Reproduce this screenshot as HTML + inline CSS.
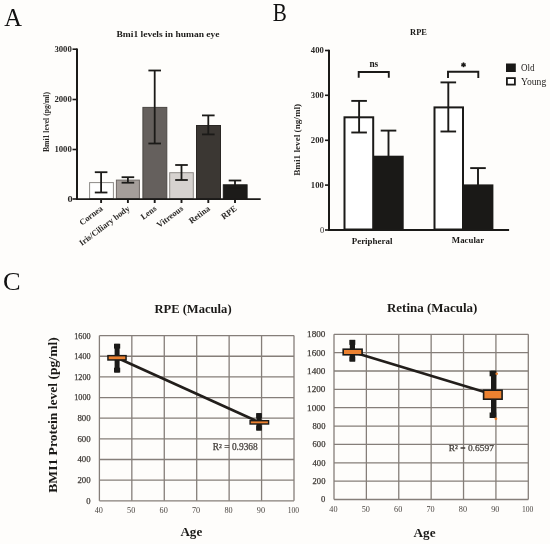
<!DOCTYPE html>
<html><head><meta charset="utf-8"><style>
html,body{margin:0;padding:0;background:#fefdfb;}
body{width:550px;height:544px;overflow:hidden;font-family:"Liberation Serif",serif;}
svg{display:block;}
</style></head><body>
<svg width="550" height="544" viewBox="0 0 550 544" style="will-change:transform;filter:blur(0.3px)">
<rect x="0" y="0" width="550" height="544" fill="#fefdfb"/>
<text x="4.2" y="26.3" font-size="24.5" text-anchor="start" font-weight="normal" fill="#111" font-family="'Liberation Serif', serif">A</text>
<text x="272.8" y="20.8" font-size="24.5" text-anchor="start" font-weight="normal" fill="#111" font-family="'Liberation Serif', serif" textLength="14.1" lengthAdjust="spacingAndGlyphs">B</text>
<text x="3.0" y="290" font-size="24.5" text-anchor="start" font-weight="normal" fill="#111" font-family="'Liberation Serif', serif" textLength="17.6" lengthAdjust="spacingAndGlyphs">C</text>
<text x="168" y="36.8" font-size="8" text-anchor="middle" font-weight="bold" fill="#1b1a18" font-family="'Liberation Serif', serif" textLength="103" lengthAdjust="spacingAndGlyphs">Bmi1 levels in human eye</text>
<line x1="77.00" y1="48.50" x2="77.00" y2="200.00" stroke="#1b1a18" stroke-width="2" stroke-linecap="butt"/>
<line x1="72.50" y1="49.20" x2="77.00" y2="49.20" stroke="#1b1a18" stroke-width="1.6" stroke-linecap="butt"/>
<text x="71.8" y="52.1" font-size="8.8" text-anchor="end" font-weight="bold" fill="#2a2826" font-family="'Liberation Serif', serif" textLength="17.4" lengthAdjust="spacingAndGlyphs">3000</text>
<line x1="72.50" y1="99.50" x2="77.00" y2="99.50" stroke="#1b1a18" stroke-width="1.6" stroke-linecap="butt"/>
<text x="71.8" y="102.4" font-size="8.8" text-anchor="end" font-weight="bold" fill="#2a2826" font-family="'Liberation Serif', serif" textLength="17.4" lengthAdjust="spacingAndGlyphs">2000</text>
<line x1="72.50" y1="149.50" x2="77.00" y2="149.50" stroke="#1b1a18" stroke-width="1.6" stroke-linecap="butt"/>
<text x="71.8" y="152.4" font-size="8.8" text-anchor="end" font-weight="bold" fill="#2a2826" font-family="'Liberation Serif', serif" textLength="17.4" lengthAdjust="spacingAndGlyphs">1000</text>
<line x1="72.50" y1="199.00" x2="77.00" y2="199.00" stroke="#1b1a18" stroke-width="1.6" stroke-linecap="butt"/>
<text x="72.6" y="202.3" font-size="8.8" text-anchor="end" font-weight="bold" fill="#2a2826" font-family="'Liberation Serif', serif" textLength="5.2" lengthAdjust="spacingAndGlyphs">0</text>
<text x="48.8" y="122" font-size="8" text-anchor="middle" font-weight="bold" fill="#2a2826" font-family="'Liberation Serif', serif" textLength="60" lengthAdjust="spacingAndGlyphs" transform="rotate(-90 48.8 122)">Bmi1 level (pg/ml)</text>
<rect x="89.60" y="182.60" width="23.80" height="15.90" fill="#ffffff" stroke="#8d8a87" stroke-width="1"/>
<rect x="116.40" y="180.10" width="23.00" height="18.40" fill="#a59e9a" stroke="#6e6864" stroke-width="1"/>
<rect x="142.90" y="107.40" width="23.90" height="91.10" fill="#65605d" stroke="#4a4643" stroke-width="1"/>
<rect x="169.70" y="172.70" width="23.60" height="25.80" fill="#d6d2cf" stroke="#8d8a87" stroke-width="1"/>
<rect x="196.50" y="125.50" width="24.00" height="73.00" fill="#3b3733" stroke="#2a2724" stroke-width="1"/>
<rect x="223.30" y="184.80" width="23.80" height="13.70" fill="#1c1b19" stroke="#1c1b19" stroke-width="1"/>
<line x1="101.10" y1="172.20" x2="101.10" y2="192.50" stroke="#1b1a18" stroke-width="1.8" stroke-linecap="butt"/>
<line x1="94.80" y1="172.20" x2="107.40" y2="172.20" stroke="#1b1a18" stroke-width="1.8" stroke-linecap="butt"/>
<line x1="94.80" y1="192.50" x2="107.40" y2="192.50" stroke="#1b1a18" stroke-width="1.8" stroke-linecap="butt"/>
<line x1="127.90" y1="177.20" x2="127.90" y2="182.70" stroke="#1b1a18" stroke-width="1.8" stroke-linecap="butt"/>
<line x1="121.60" y1="177.20" x2="134.20" y2="177.20" stroke="#1b1a18" stroke-width="1.8" stroke-linecap="butt"/>
<line x1="121.60" y1="182.70" x2="134.20" y2="182.70" stroke="#1b1a18" stroke-width="1.8" stroke-linecap="butt"/>
<line x1="154.70" y1="70.50" x2="154.70" y2="143.50" stroke="#1b1a18" stroke-width="1.8" stroke-linecap="butt"/>
<line x1="148.40" y1="70.50" x2="161.00" y2="70.50" stroke="#1b1a18" stroke-width="1.8" stroke-linecap="butt"/>
<line x1="148.40" y1="143.50" x2="161.00" y2="143.50" stroke="#1b1a18" stroke-width="1.8" stroke-linecap="butt"/>
<line x1="181.50" y1="165.00" x2="181.50" y2="180.00" stroke="#1b1a18" stroke-width="1.8" stroke-linecap="butt"/>
<line x1="175.20" y1="165.00" x2="187.80" y2="165.00" stroke="#1b1a18" stroke-width="1.8" stroke-linecap="butt"/>
<line x1="175.20" y1="180.00" x2="187.80" y2="180.00" stroke="#1b1a18" stroke-width="1.8" stroke-linecap="butt"/>
<line x1="208.30" y1="115.40" x2="208.30" y2="134.40" stroke="#1b1a18" stroke-width="1.8" stroke-linecap="butt"/>
<line x1="202.00" y1="115.40" x2="214.60" y2="115.40" stroke="#1b1a18" stroke-width="1.8" stroke-linecap="butt"/>
<line x1="202.00" y1="134.40" x2="214.60" y2="134.40" stroke="#1b1a18" stroke-width="1.8" stroke-linecap="butt"/>
<line x1="235.00" y1="180.50" x2="235.00" y2="188.00" stroke="#1b1a18" stroke-width="1.8" stroke-linecap="butt"/>
<line x1="228.70" y1="180.50" x2="241.30" y2="180.50" stroke="#1b1a18" stroke-width="1.8" stroke-linecap="butt"/>
<line x1="228.70" y1="188.00" x2="241.30" y2="188.00" stroke="#1b1a18" stroke-width="1.8" stroke-linecap="butt"/>
<line x1="76.00" y1="199.10" x2="260.70" y2="199.10" stroke="#1b1a18" stroke-width="1.9" stroke-linecap="butt"/>
<line x1="101.10" y1="200.00" x2="101.10" y2="203.00" stroke="#1b1a18" stroke-width="1.9" stroke-linecap="butt"/>
<line x1="127.90" y1="200.00" x2="127.90" y2="203.00" stroke="#1b1a18" stroke-width="1.9" stroke-linecap="butt"/>
<line x1="154.70" y1="200.00" x2="154.70" y2="203.00" stroke="#1b1a18" stroke-width="1.9" stroke-linecap="butt"/>
<line x1="181.50" y1="200.00" x2="181.50" y2="203.00" stroke="#1b1a18" stroke-width="1.9" stroke-linecap="butt"/>
<line x1="208.30" y1="200.00" x2="208.30" y2="203.00" stroke="#1b1a18" stroke-width="1.9" stroke-linecap="butt"/>
<line x1="235.00" y1="200.00" x2="235.00" y2="203.00" stroke="#1b1a18" stroke-width="1.9" stroke-linecap="butt"/>
<text x="103.5" y="209.6" font-size="8.5" text-anchor="end" font-weight="bold" fill="#2a2826" font-family="'Liberation Serif', serif" transform="rotate(-37 103.5 209.6)">Cornea</text>
<text x="130.3" y="209.6" font-size="8.5" text-anchor="end" font-weight="bold" fill="#2a2826" font-family="'Liberation Serif', serif" transform="rotate(-37 130.3 209.6)">Iris/Ciliary body</text>
<text x="157.1" y="209.6" font-size="8.5" text-anchor="end" font-weight="bold" fill="#2a2826" font-family="'Liberation Serif', serif" transform="rotate(-37 157.1 209.6)">Lens</text>
<text x="183.9" y="209.6" font-size="8.5" text-anchor="end" font-weight="bold" fill="#2a2826" font-family="'Liberation Serif', serif" transform="rotate(-37 183.9 209.6)">Vitreous</text>
<text x="210.70000000000002" y="209.6" font-size="8.5" text-anchor="end" font-weight="bold" fill="#2a2826" font-family="'Liberation Serif', serif" transform="rotate(-37 210.70000000000002 209.6)">Retina</text>
<text x="237.4" y="209.6" font-size="8.5" text-anchor="end" font-weight="bold" fill="#2a2826" font-family="'Liberation Serif', serif" transform="rotate(-37 237.4 209.6)">RPE</text>
<text x="418.5" y="34.8" font-size="9.0" text-anchor="middle" font-weight="bold" fill="#1b1a18" font-family="'Liberation Serif', serif" textLength="16.8" lengthAdjust="spacingAndGlyphs">RPE</text>
<line x1="329.00" y1="49.70" x2="329.00" y2="231.00" stroke="#1b1a18" stroke-width="2" stroke-linecap="butt"/>
<line x1="325.00" y1="50.50" x2="329.00" y2="50.50" stroke="#1b1a18" stroke-width="1.6" stroke-linecap="butt"/>
<text x="323.8" y="53.4" font-size="8.5" text-anchor="end" font-weight="bold" fill="#2a2826" font-family="'Liberation Serif', serif" textLength="13.0" lengthAdjust="spacingAndGlyphs">400</text>
<line x1="325.00" y1="95.30" x2="329.00" y2="95.30" stroke="#1b1a18" stroke-width="1.6" stroke-linecap="butt"/>
<text x="323.8" y="98.2" font-size="8.5" text-anchor="end" font-weight="bold" fill="#2a2826" font-family="'Liberation Serif', serif" textLength="13.0" lengthAdjust="spacingAndGlyphs">300</text>
<line x1="325.00" y1="140.30" x2="329.00" y2="140.30" stroke="#1b1a18" stroke-width="1.6" stroke-linecap="butt"/>
<text x="323.8" y="143.20000000000002" font-size="8.5" text-anchor="end" font-weight="bold" fill="#2a2826" font-family="'Liberation Serif', serif" textLength="13.0" lengthAdjust="spacingAndGlyphs">200</text>
<line x1="325.00" y1="185.10" x2="329.00" y2="185.10" stroke="#1b1a18" stroke-width="1.6" stroke-linecap="butt"/>
<text x="323.8" y="188.0" font-size="8.5" text-anchor="end" font-weight="bold" fill="#2a2826" font-family="'Liberation Serif', serif" textLength="13.0" lengthAdjust="spacingAndGlyphs">100</text>
<line x1="325.00" y1="230.00" x2="329.00" y2="230.00" stroke="#1b1a18" stroke-width="1.6" stroke-linecap="butt"/>
<text x="324.1" y="233.2" font-size="8.5" text-anchor="end" font-weight="normal" fill="#2a2826" font-family="'Liberation Serif', serif" textLength="4.2" lengthAdjust="spacingAndGlyphs">0</text>
<text x="300.4" y="139.8" font-size="8.6" text-anchor="middle" font-weight="bold" fill="#2a2826" font-family="'Liberation Serif', serif" textLength="72" lengthAdjust="spacingAndGlyphs" transform="rotate(-90 300.4 139.8)">Bmi1 level (ng/ml)</text>
<rect x="344.50" y="117.30" width="28.70" height="112.20" fill="#ffffff" stroke="#1b1a18" stroke-width="2"/>
<rect x="374.00" y="155.70" width="29.70" height="74.30" fill="#1a1917"/>
<rect x="434.50" y="107.40" width="28.50" height="122.10" fill="#ffffff" stroke="#1b1a18" stroke-width="2"/>
<rect x="462.20" y="184.40" width="31.20" height="45.60" fill="#1a1917"/>
<line x1="359.10" y1="100.90" x2="359.10" y2="132.50" stroke="#1b1a18" stroke-width="1.9" stroke-linecap="butt"/>
<line x1="351.30" y1="100.90" x2="366.90" y2="100.90" stroke="#1b1a18" stroke-width="1.9" stroke-linecap="butt"/>
<line x1="351.30" y1="132.50" x2="366.90" y2="132.50" stroke="#1b1a18" stroke-width="1.9" stroke-linecap="butt"/>
<line x1="388.50" y1="130.60" x2="388.50" y2="156.00" stroke="#1b1a18" stroke-width="1.9" stroke-linecap="butt"/>
<line x1="380.70" y1="130.60" x2="396.30" y2="130.60" stroke="#1b1a18" stroke-width="1.9" stroke-linecap="butt"/>
<line x1="448.30" y1="82.40" x2="448.30" y2="131.50" stroke="#1b1a18" stroke-width="1.9" stroke-linecap="butt"/>
<line x1="440.50" y1="82.40" x2="456.10" y2="82.40" stroke="#1b1a18" stroke-width="1.9" stroke-linecap="butt"/>
<line x1="440.50" y1="131.50" x2="456.10" y2="131.50" stroke="#1b1a18" stroke-width="1.9" stroke-linecap="butt"/>
<line x1="478.00" y1="168.10" x2="478.00" y2="185.00" stroke="#1b1a18" stroke-width="1.9" stroke-linecap="butt"/>
<line x1="470.20" y1="168.10" x2="485.80" y2="168.10" stroke="#1b1a18" stroke-width="1.9" stroke-linecap="butt"/>
<line x1="328.00" y1="230.00" x2="509.10" y2="230.00" stroke="#1b1a18" stroke-width="1.9" stroke-linecap="butt"/>
<polyline points="358.7,77.8 358.7,72 388.8,72 388.8,77.8" fill="none" stroke="#1b1a18" stroke-width="1.9"/>
<polyline points="448,78.0 448,71.8 478.3,71.8 478.3,78.0" fill="none" stroke="#1b1a18" stroke-width="1.9"/>
<text x="373.8" y="66.7" font-size="9.6" text-anchor="middle" font-weight="bold" fill="#1b1a18" font-family="'Liberation Serif', serif" textLength="8.8" lengthAdjust="spacingAndGlyphs">ns</text>
<g stroke="#1b1a18" stroke-width="1.5" stroke-linecap="butt"><line x1="463.5" y1="62.4" x2="463.5" y2="67.2"/><line x1="461.4" y1="63.6" x2="465.6" y2="66.0"/><line x1="461.4" y1="66.0" x2="465.6" y2="63.6"/></g>
<text x="372.1" y="243.5" font-size="8.8" text-anchor="middle" font-weight="bold" fill="#1b1a18" font-family="'Liberation Serif', serif" textLength="40.8" lengthAdjust="spacingAndGlyphs">Peripheral</text>
<text x="468" y="243.2" font-size="8.8" text-anchor="middle" font-weight="bold" fill="#1b1a18" font-family="'Liberation Serif', serif" textLength="32.3" lengthAdjust="spacingAndGlyphs">Macular</text>
<rect x="506.00" y="63.50" width="9.80" height="8.50" fill="#1a1917"/>
<rect x="506.90" y="78.10" width="8.00" height="6.50" fill="#ffffff" stroke="#1b1a18" stroke-width="1.8"/>
<text x="521" y="70.9" font-size="9.4" text-anchor="start" font-weight="normal" fill="#272422" font-family="'Liberation Serif', serif" textLength="13.6" lengthAdjust="spacingAndGlyphs">Old</text>
<text x="521" y="84.6" font-size="9.4" text-anchor="start" font-weight="normal" fill="#272422" font-family="'Liberation Serif', serif" textLength="25.2" lengthAdjust="spacingAndGlyphs">Young</text>
<line x1="99.40" y1="335.60" x2="99.40" y2="500.80" stroke="#857e79" stroke-width="1.3" stroke-linecap="butt"/>
<line x1="131.83" y1="335.60" x2="131.83" y2="500.80" stroke="#857e79" stroke-width="1.3" stroke-linecap="butt"/>
<line x1="164.27" y1="335.60" x2="164.27" y2="500.80" stroke="#857e79" stroke-width="1.3" stroke-linecap="butt"/>
<line x1="196.70" y1="335.60" x2="196.70" y2="500.80" stroke="#857e79" stroke-width="1.3" stroke-linecap="butt"/>
<line x1="229.13" y1="335.60" x2="229.13" y2="500.80" stroke="#857e79" stroke-width="1.3" stroke-linecap="butt"/>
<line x1="261.57" y1="335.60" x2="261.57" y2="500.80" stroke="#857e79" stroke-width="1.3" stroke-linecap="butt"/>
<line x1="294.00" y1="335.60" x2="294.00" y2="500.80" stroke="#857e79" stroke-width="1.3" stroke-linecap="butt"/>
<line x1="99.40" y1="335.60" x2="294.00" y2="335.60" stroke="#857e79" stroke-width="1.3" stroke-linecap="butt"/>
<line x1="99.40" y1="356.25" x2="294.00" y2="356.25" stroke="#857e79" stroke-width="1.3" stroke-linecap="butt"/>
<line x1="99.40" y1="376.90" x2="294.00" y2="376.90" stroke="#857e79" stroke-width="1.3" stroke-linecap="butt"/>
<line x1="99.40" y1="397.55" x2="294.00" y2="397.55" stroke="#857e79" stroke-width="1.3" stroke-linecap="butt"/>
<line x1="99.40" y1="418.20" x2="294.00" y2="418.20" stroke="#857e79" stroke-width="1.3" stroke-linecap="butt"/>
<line x1="99.40" y1="438.85" x2="294.00" y2="438.85" stroke="#857e79" stroke-width="1.3" stroke-linecap="butt"/>
<line x1="99.40" y1="459.50" x2="294.00" y2="459.50" stroke="#857e79" stroke-width="1.3" stroke-linecap="butt"/>
<line x1="99.40" y1="480.15" x2="294.00" y2="480.15" stroke="#857e79" stroke-width="1.3" stroke-linecap="butt"/>
<line x1="99.40" y1="500.80" x2="294.00" y2="500.80" stroke="#857e79" stroke-width="1.3" stroke-linecap="butt"/>
<text x="90.6" y="338.5" font-size="8.6" text-anchor="end" font-weight="normal" fill="#3f3a36" font-family="'Liberation Serif', serif" textLength="16.4" lengthAdjust="spacingAndGlyphs" stroke="#3f3a36" stroke-width="0.25">1600</text>
<text x="90.6" y="359.15" font-size="8.6" text-anchor="end" font-weight="normal" fill="#3f3a36" font-family="'Liberation Serif', serif" textLength="16.4" lengthAdjust="spacingAndGlyphs" stroke="#3f3a36" stroke-width="0.25">1400</text>
<text x="90.6" y="379.8" font-size="8.6" text-anchor="end" font-weight="normal" fill="#3f3a36" font-family="'Liberation Serif', serif" textLength="16.4" lengthAdjust="spacingAndGlyphs" stroke="#3f3a36" stroke-width="0.25">1200</text>
<text x="90.6" y="400.45" font-size="8.6" text-anchor="end" font-weight="normal" fill="#3f3a36" font-family="'Liberation Serif', serif" textLength="16.4" lengthAdjust="spacingAndGlyphs" stroke="#3f3a36" stroke-width="0.25">1000</text>
<text x="90.6" y="421.1" font-size="8.6" text-anchor="end" font-weight="normal" fill="#3f3a36" font-family="'Liberation Serif', serif" textLength="13.2" lengthAdjust="spacingAndGlyphs" stroke="#3f3a36" stroke-width="0.25">800</text>
<text x="90.6" y="441.75" font-size="8.6" text-anchor="end" font-weight="normal" fill="#3f3a36" font-family="'Liberation Serif', serif" textLength="13.2" lengthAdjust="spacingAndGlyphs" stroke="#3f3a36" stroke-width="0.25">600</text>
<text x="90.6" y="462.4" font-size="8.6" text-anchor="end" font-weight="normal" fill="#3f3a36" font-family="'Liberation Serif', serif" textLength="13.2" lengthAdjust="spacingAndGlyphs" stroke="#3f3a36" stroke-width="0.25">400</text>
<text x="90.6" y="483.04999999999995" font-size="8.6" text-anchor="end" font-weight="normal" fill="#3f3a36" font-family="'Liberation Serif', serif" textLength="13.2" lengthAdjust="spacingAndGlyphs" stroke="#3f3a36" stroke-width="0.25">200</text>
<text x="90.6" y="503.7" font-size="8.6" text-anchor="end" font-weight="normal" fill="#3f3a36" font-family="'Liberation Serif', serif" stroke="#3f3a36" stroke-width="0.25">0</text>
<text x="98.80000000000001" y="512.6" font-size="7.7" text-anchor="middle" font-weight="normal" fill="#4a4541" font-family="'Liberation Serif', serif" textLength="8.2" lengthAdjust="spacingAndGlyphs">40</text>
<text x="131.23333333333335" y="512.6" font-size="7.7" text-anchor="middle" font-weight="normal" fill="#4a4541" font-family="'Liberation Serif', serif" textLength="8.2" lengthAdjust="spacingAndGlyphs">50</text>
<text x="163.66666666666666" y="512.6" font-size="7.7" text-anchor="middle" font-weight="normal" fill="#4a4541" font-family="'Liberation Serif', serif" textLength="8.2" lengthAdjust="spacingAndGlyphs">60</text>
<text x="196.1" y="512.6" font-size="7.7" text-anchor="middle" font-weight="normal" fill="#4a4541" font-family="'Liberation Serif', serif" textLength="8.2" lengthAdjust="spacingAndGlyphs">70</text>
<text x="228.53333333333333" y="512.6" font-size="7.7" text-anchor="middle" font-weight="normal" fill="#4a4541" font-family="'Liberation Serif', serif" textLength="8.2" lengthAdjust="spacingAndGlyphs">80</text>
<text x="260.96666666666664" y="512.6" font-size="7.7" text-anchor="middle" font-weight="normal" fill="#4a4541" font-family="'Liberation Serif', serif" textLength="8.2" lengthAdjust="spacingAndGlyphs">90</text>
<text x="293.4" y="512.6" font-size="7.7" text-anchor="middle" font-weight="normal" fill="#4a4541" font-family="'Liberation Serif', serif" textLength="11.4" lengthAdjust="spacingAndGlyphs">100</text>
<text x="193" y="312.6" font-size="11.5" text-anchor="middle" font-weight="bold" fill="#1b1a18" font-family="'Liberation Serif', serif" textLength="77.2" lengthAdjust="spacingAndGlyphs">RPE (Macula)</text>
<text x="56.6" y="415" font-size="11.5" text-anchor="middle" font-weight="bold" fill="#1b1a18" font-family="'Liberation Serif', serif" textLength="155.5" lengthAdjust="spacingAndGlyphs" transform="rotate(-90 56.6 415)">BMI1 Protein level (pg/ml)</text>
<text x="191.3" y="536.3" font-size="12.2" text-anchor="middle" font-weight="bold" fill="#1b1a18" font-family="'Liberation Serif', serif" textLength="21.8" lengthAdjust="spacingAndGlyphs">Age</text>
<line x1="117.00" y1="357.80" x2="259.20" y2="422.20" stroke="#221e1b" stroke-width="2.6" stroke-linecap="butt"/>
<rect x="114.00" y="343.80" width="6.20" height="4.80" fill="#1b1a18"/>
<rect x="114.60" y="343.80" width="5.00" height="28.70" fill="#1b1a18"/>
<rect x="114.00" y="367.70" width="6.20" height="4.80" fill="#1b1a18"/>
<rect x="107.95" y="355.65" width="18.10" height="4.30" fill="#ec8130" stroke="#1b1a18" stroke-width="1.5"/>
<rect x="256.20" y="413.20" width="5.60" height="5.00" fill="#1b1a18"/>
<rect x="256.50" y="413.20" width="5.00" height="17.30" fill="#1b1a18"/>
<rect x="256.20" y="425.50" width="5.60" height="5.00" fill="#1b1a18"/>
<rect x="250.10" y="420.70" width="18.50" height="3.30" fill="#ec8130" stroke="#1b1a18" stroke-width="1.4"/>
<text x="235.3" y="449.6" font-size="9.6" text-anchor="middle" font-weight="normal" fill="#433e3a" font-family="'Liberation Serif', serif" textLength="44.9" lengthAdjust="spacingAndGlyphs" stroke="#433e3a" stroke-width="0.25">R² = 0.9368</text>
<line x1="334.00" y1="334.30" x2="334.00" y2="499.50" stroke="#857e79" stroke-width="1.3" stroke-linecap="butt"/>
<line x1="366.38" y1="334.30" x2="366.38" y2="499.50" stroke="#857e79" stroke-width="1.3" stroke-linecap="butt"/>
<line x1="398.77" y1="334.30" x2="398.77" y2="499.50" stroke="#857e79" stroke-width="1.3" stroke-linecap="butt"/>
<line x1="431.15" y1="334.30" x2="431.15" y2="499.50" stroke="#857e79" stroke-width="1.3" stroke-linecap="butt"/>
<line x1="463.53" y1="334.30" x2="463.53" y2="499.50" stroke="#857e79" stroke-width="1.3" stroke-linecap="butt"/>
<line x1="495.92" y1="334.30" x2="495.92" y2="499.50" stroke="#857e79" stroke-width="1.3" stroke-linecap="butt"/>
<line x1="528.30" y1="334.30" x2="528.30" y2="499.50" stroke="#857e79" stroke-width="1.3" stroke-linecap="butt"/>
<line x1="334.00" y1="334.30" x2="528.30" y2="334.30" stroke="#857e79" stroke-width="1.3" stroke-linecap="butt"/>
<line x1="334.00" y1="352.66" x2="528.30" y2="352.66" stroke="#857e79" stroke-width="1.3" stroke-linecap="butt"/>
<line x1="334.00" y1="371.01" x2="528.30" y2="371.01" stroke="#857e79" stroke-width="1.3" stroke-linecap="butt"/>
<line x1="334.00" y1="389.37" x2="528.30" y2="389.37" stroke="#857e79" stroke-width="1.3" stroke-linecap="butt"/>
<line x1="334.00" y1="407.72" x2="528.30" y2="407.72" stroke="#857e79" stroke-width="1.3" stroke-linecap="butt"/>
<line x1="334.00" y1="426.08" x2="528.30" y2="426.08" stroke="#857e79" stroke-width="1.3" stroke-linecap="butt"/>
<line x1="334.00" y1="444.43" x2="528.30" y2="444.43" stroke="#857e79" stroke-width="1.3" stroke-linecap="butt"/>
<line x1="334.00" y1="462.79" x2="528.30" y2="462.79" stroke="#857e79" stroke-width="1.3" stroke-linecap="butt"/>
<line x1="334.00" y1="481.14" x2="528.30" y2="481.14" stroke="#857e79" stroke-width="1.3" stroke-linecap="butt"/>
<line x1="334.00" y1="499.50" x2="528.30" y2="499.50" stroke="#857e79" stroke-width="1.3" stroke-linecap="butt"/>
<text x="325.4" y="337.2" font-size="8.6" text-anchor="end" font-weight="normal" fill="#3f3a36" font-family="'Liberation Serif', serif" textLength="18.3" lengthAdjust="spacingAndGlyphs" stroke="#3f3a36" stroke-width="0.25">1800</text>
<text x="325.4" y="355.55555555555554" font-size="8.6" text-anchor="end" font-weight="normal" fill="#3f3a36" font-family="'Liberation Serif', serif" textLength="18.3" lengthAdjust="spacingAndGlyphs" stroke="#3f3a36" stroke-width="0.25">1600</text>
<text x="325.4" y="373.9111111111111" font-size="8.6" text-anchor="end" font-weight="normal" fill="#3f3a36" font-family="'Liberation Serif', serif" textLength="18.3" lengthAdjust="spacingAndGlyphs" stroke="#3f3a36" stroke-width="0.25">1400</text>
<text x="325.4" y="392.26666666666665" font-size="8.6" text-anchor="end" font-weight="normal" fill="#3f3a36" font-family="'Liberation Serif', serif" textLength="18.3" lengthAdjust="spacingAndGlyphs" stroke="#3f3a36" stroke-width="0.25">1200</text>
<text x="325.4" y="410.6222222222222" font-size="8.6" text-anchor="end" font-weight="normal" fill="#3f3a36" font-family="'Liberation Serif', serif" textLength="18.3" lengthAdjust="spacingAndGlyphs" stroke="#3f3a36" stroke-width="0.25">1000</text>
<text x="325.4" y="428.97777777777776" font-size="8.6" text-anchor="end" font-weight="normal" fill="#3f3a36" font-family="'Liberation Serif', serif" textLength="12.8" lengthAdjust="spacingAndGlyphs" stroke="#3f3a36" stroke-width="0.25">800</text>
<text x="325.4" y="447.3333333333333" font-size="8.6" text-anchor="end" font-weight="normal" fill="#3f3a36" font-family="'Liberation Serif', serif" textLength="12.8" lengthAdjust="spacingAndGlyphs" stroke="#3f3a36" stroke-width="0.25">600</text>
<text x="325.4" y="465.68888888888887" font-size="8.6" text-anchor="end" font-weight="normal" fill="#3f3a36" font-family="'Liberation Serif', serif" textLength="12.8" lengthAdjust="spacingAndGlyphs" stroke="#3f3a36" stroke-width="0.25">400</text>
<text x="325.4" y="484.0444444444444" font-size="8.6" text-anchor="end" font-weight="normal" fill="#3f3a36" font-family="'Liberation Serif', serif" textLength="12.8" lengthAdjust="spacingAndGlyphs" stroke="#3f3a36" stroke-width="0.25">200</text>
<text x="325.4" y="502.4" font-size="8.6" text-anchor="end" font-weight="normal" fill="#3f3a36" font-family="'Liberation Serif', serif" stroke="#3f3a36" stroke-width="0.25">0</text>
<text x="333.4" y="511.9" font-size="7.7" text-anchor="middle" font-weight="normal" fill="#4a4541" font-family="'Liberation Serif', serif" textLength="8.2" lengthAdjust="spacingAndGlyphs">40</text>
<text x="365.7833333333333" y="511.9" font-size="7.7" text-anchor="middle" font-weight="normal" fill="#4a4541" font-family="'Liberation Serif', serif" textLength="8.2" lengthAdjust="spacingAndGlyphs">50</text>
<text x="398.16666666666663" y="511.9" font-size="7.7" text-anchor="middle" font-weight="normal" fill="#4a4541" font-family="'Liberation Serif', serif" textLength="8.2" lengthAdjust="spacingAndGlyphs">60</text>
<text x="430.54999999999995" y="511.9" font-size="7.7" text-anchor="middle" font-weight="normal" fill="#4a4541" font-family="'Liberation Serif', serif" textLength="8.2" lengthAdjust="spacingAndGlyphs">70</text>
<text x="462.9333333333333" y="511.9" font-size="7.7" text-anchor="middle" font-weight="normal" fill="#4a4541" font-family="'Liberation Serif', serif" textLength="8.2" lengthAdjust="spacingAndGlyphs">80</text>
<text x="495.3166666666666" y="511.9" font-size="7.7" text-anchor="middle" font-weight="normal" fill="#4a4541" font-family="'Liberation Serif', serif" textLength="8.2" lengthAdjust="spacingAndGlyphs">90</text>
<text x="527.6999999999999" y="511.9" font-size="7.7" text-anchor="middle" font-weight="normal" fill="#4a4541" font-family="'Liberation Serif', serif" textLength="11.4" lengthAdjust="spacingAndGlyphs">100</text>
<text x="432.2" y="312" font-size="11.5" text-anchor="middle" font-weight="bold" fill="#1b1a18" font-family="'Liberation Serif', serif" textLength="90.4" lengthAdjust="spacingAndGlyphs">Retina (Macula)</text>
<text x="424.5" y="537.0" font-size="12.2" text-anchor="middle" font-weight="bold" fill="#1b1a18" font-family="'Liberation Serif', serif" textLength="22.0" lengthAdjust="spacingAndGlyphs">Age</text>
<line x1="352.60" y1="352.00" x2="492.80" y2="394.60" stroke="#221e1b" stroke-width="2.6" stroke-linecap="butt"/>
<rect x="349.40" y="339.90" width="5.90" height="5.00" fill="#1b1a18"/>
<rect x="349.80" y="339.90" width="5.20" height="21.60" fill="#1b1a18"/>
<rect x="349.40" y="356.50" width="5.90" height="5.00" fill="#1b1a18"/>
<rect x="343.20" y="349.20" width="18.90" height="5.60" fill="#ec8130" stroke="#1b1a18" stroke-width="1.6"/>
<rect x="489.60" y="370.80" width="6.60" height="5.50" fill="#1b1a18"/>
<rect x="491.00" y="370.80" width="5.20" height="47.20" fill="#1b1a18"/>
<rect x="489.60" y="412.50" width="6.60" height="5.50" fill="#1b1a18"/>
<rect x="483.60" y="390.20" width="18.50" height="9.00" fill="#ec8130" stroke="#1b1a18" stroke-width="1.6"/>
<circle cx="496.7" cy="373.7" r="1.3" fill="#ec8130"/>
<circle cx="495.9" cy="418.8" r="1.4" fill="#ec8130"/>
<text x="471.3" y="450.7" font-size="8.6" text-anchor="middle" font-weight="normal" fill="#433e3a" font-family="'Liberation Serif', serif" textLength="45.3" lengthAdjust="spacingAndGlyphs" stroke="#433e3a" stroke-width="0.25">R² = 0.6597</text>
</svg>
</body></html>
